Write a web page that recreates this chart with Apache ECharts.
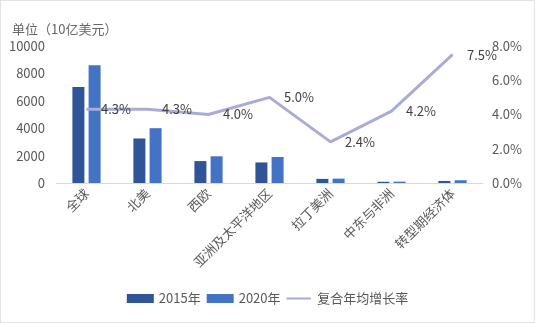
<!DOCTYPE html>
<html>
<head>
<meta charset="utf-8">
<script src="https://cdn.jsdelivr.net/npm/echarts@6/dist/echarts.min.js"></script>
<style>
  html, body { margin: 0; padding: 0; background: #fff; }
  #main { width: 533px; height: 321px; border: 1px solid #e3e3e3; }
</style>
</head>
<body>
<div id="main"></div>
<script>
var regions = ['全球', '北美', '西欧', '亚洲及太平洋地区', '拉丁美洲', '中东与非洲', '转型期经济体'];
var v2015 = [7000, 3250, 1600, 1500, 300, 90, 150];
var v2020 = [8600, 4000, 1950, 1900, 320, 100, 200];
var cagr = [4.3, 4.3, 4.0, 5.0, 2.4, 4.2, 7.5];

var myChart = echarts.init(document.getElementById('main'));
var font = '"Noto Sans CJK SC", "Noto Sans", sans-serif';

var option = {
    backgroundColor: '#fff',
    textStyle: { fontFamily: font },
    title: {
        text: '单位（10亿美元）',
        left: 6,
        top: 17,
        textStyle: { fontSize: 13, fontWeight: 'normal', color: '#666', fontFamily: font }
    },
    legend: {
        bottom: 12,
        left: 'center',
        itemWidth: 27,
        itemHeight: 9,
        itemGap: 6,
        textStyle: { fontSize: 13, color: '#595959', fontFamily: font },
        data: [
            { name: '2015年', icon: 'rect' },
            { name: '2020年', icon: 'rect' },
            // thin line icon; tiny corner dots keep the bbox at full height
            { name: '复合年均增长率', icon: 'path://M0,4 H27 V6 H0 Z M0,0 H0.01 V0.01 H0 Z M0,9.99 H0.01 V10 H0 Z' }
        ]
    },
    grid: { left: 55, right: 51, top: 45, bottom: 139 },
    xAxis: {
        type: 'category',
        data: regions,
        axisLine: { lineStyle: { color: '#d9d9d9' } },
        axisTick: { show: false },
        axisLabel: { rotate: 45, fontSize: 13, color: '#595959', margin: 8, interval: 0 }
    },
    yAxis: [{
        type: 'value',
        min: 0, max: 10000, interval: 2000,
        splitLine: { show: false },
        axisLine: { show: false },
        axisLabel: {
            fontSize: 13, color: '#595959', margin: 11,
            formatter: function (v) { return String(v); }
        }
    }, {
        type: 'value',
        min: 0, max: 8, interval: 2,
        splitLine: { show: false },
        axisLine: { show: false },
        axisLabel: {
            fontSize: 13, color: '#595959', margin: 9,
            formatter: function (v) { return v.toFixed(1) + '%'; }
        }
    }],
    series: [{
        name: '2015年',
        type: 'bar',
        data: v2015,
        barWidth: 12,
        barGap: '35%',
        itemStyle: { color: '#2F5597' }
    }, {
        name: '2020年',
        type: 'bar',
        data: v2020,
        barWidth: 12,
        itemStyle: { color: '#4472C4' }
    }, {
        name: '复合年均增长率',
        type: 'line',
        yAxisIndex: 1,
        data: cagr,
        symbol: 'circle',
        symbolSize: 1,
        showSymbol: true,
        lineStyle: { color: '#A9ACD6', width: 3 },
        itemStyle: { color: '#A9ACD6' },
        label: {
            show: true,
            position: 'right',
            distance: 14,
            fontSize: 13,
            color: '#404040',
            formatter: function (p) { return p.value.toFixed(1) + '%'; }
        }
    }]
};
myChart.setOption(option);
</script>
</body>
</html>
